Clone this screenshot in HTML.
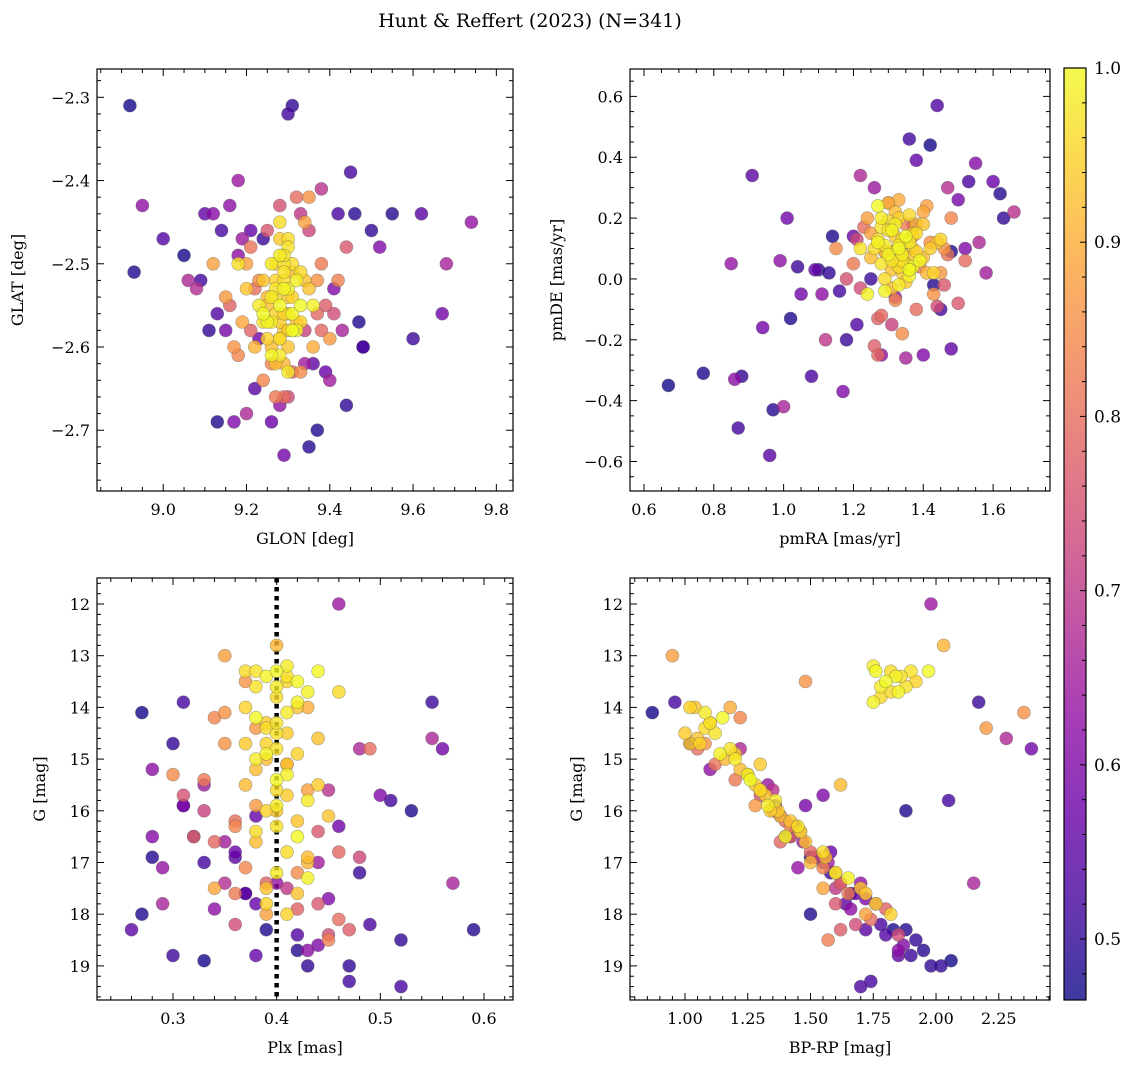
<!DOCTYPE html>
<html><head><meta charset="utf-8"><style>
html,body{margin:0;padding:0;background:#fff;}
svg{display:block;font-family:"DejaVu Serif","Liberation Serif",serif;}
</style></head><body>
<svg id="fig" width="1136" height="1068" viewBox="0 0 1136 1068" xmlns="http://www.w3.org/2000/svg">
<text x="530" y="27" text-anchor="middle" font-size="19">Hunt &amp; Reffert (2023) (N=341)</text>
</svg>
<script>
// shared membership probability and G magnitude
const prob = [1.0,0.99,0.98,0.97,1.0,0.96,0.95,0.99,0.94,0.98, 0.93,0.97,1.0,0.95,0.92,0.99,0.96,0.94,0.98,0.93, 0.97,0.95,1.0,0.92,0.96,0.94,0.98,0.93,0.91,0.95, 0.97,0.91,0.99,0.96,0.94,0.92,1.0,0.97,0.93,0.95, 0.98,0.96,0.94,0.92,0.99,
 0.88,0.86,0.84,0.82,0.80,0.87,0.78,0.85,0.76,0.83, 0.74,0.89,0.79,0.81,0.90,0.75,0.86,0.77,0.84,0.80, 0.72,0.88,0.76,0.82,0.73,0.85,0.78,0.74,0.87,0.79,
 0.47,0.48,0.62,0.50,0.52,0.63,0.55,0.49,0.66,0.58, 0.51,0.53,0.50,0.48,0.60,0.67,0.64,0.52,0.56,0.47, 0.54,0.68,0.59,0.61,0.57,0.49,0.65,0.50,0.69,0.53, 0.55,0.62,0.48,0.70,0.58,0.51,0.64,0.56,0.60,0.67, 0.50,0.63,0.57,0.66,0.52,
 0.97,0.95,1.0,0.93,0.96,0.98,0.94,0.99,0.92,0.96,0.97,0.93,0.95,0.98,0.94,
 0.84,0.88,0.78,0.86,0.80,
 0.52,0.56,0.60,0.49,0.54,0.65,0.58,0.51,0.62,0.48];
const gMag = [13.3,13.4,13.2,13.6,13.5,13.8,14.0,13.7,14.3,14.1, 14.6,14.5,14.2,14.9,15.0,15.3,15.6,14.7,15.8,16.1, 16.3,16.0,16.5,15.2,16.8,15.5,17.2,17.5,17.0,18.0, 13.3,12.8,13.9,14.4,15.1,15.5,13.3,14.8,16.2,17.8, 15.9,13.7,14.5,16.6,17.3,
 13.0,13.5,14.2,15.4,16.2,15.9,16.5,17.2,17.8,18.5, 18.2,17.5,16.8,15.1,14.0,15.7,14.1,18.3,17.1,14.8, 16.0,18.0,16.4,17.6,16.9,15.3,17.9,18.4,14.4,16.6,
 14.1,18.0,15.2,14.7,13.9,17.1,18.3,18.3,17.4,14.8, 13.9,19.4,18.5,16.0,15.7,14.8,12.0,19.3,18.8,18.9, 16.5,17.4,15.9,16.5,17.6,18.7,17.0,19.0,15.6,18.2, 16.9,17.9,18.3,17.5,16.3,18.8,15.5,17.8,18.6,14.6, 19.0,17.4,16.8,17.8,15.8,
 13.4,14.7,15.4,14.0,16.4,13.6,15.7,14.9,16.9,13.3,14.3,17.6,13.5,15.0,16.0,
 16.3,15.6,17.4,14.7,18.1,
 17.0,16.1,17.7,16.9,18.4,16.6,15.9,17.2,18.7,17.6];
const glon = [9.28,9.30,9.26,9.29,9.31,9.27,9.25,9.32,9.29,9.28, 9.24,9.30,9.33,9.27,9.26,9.29,9.31,9.28,9.23,9.30, 9.29,9.27,9.32,9.25,9.28,9.30,9.26,9.34,9.29,9.31, 9.18,9.22,9.36,9.28,9.30,9.27,9.24,9.29,9.20,9.33, 9.26,9.30,9.28,9.31,9.25,
 9.20,9.35,9.18,9.38,9.22,9.40,9.16,9.33,9.25,9.42, 9.30,9.19,9.37,9.21,9.36,9.28,9.17,9.39,9.24,9.32, 9.34,9.12,9.44,9.27,9.35,9.23,9.31,9.41,9.15,9.38,
 8.92,8.93,8.95,9.31,9.30,9.74,9.62,9.55,9.68,9.67, 9.60,9.48,9.50,9.13,9.17,9.20,9.18,9.45,9.10,9.05, 9.00,9.08,9.15,9.12,9.26,9.35,9.40,9.44,9.38,9.42, 9.22,9.16,9.47,9.33,9.29,9.24,9.19,9.36,9.52,9.06, 9.11,9.28,9.39,9.43,9.14,
 9.27,9.29,9.31,9.25,9.33,9.28,9.30,9.26,9.32,9.29,9.24,9.35,9.27,9.30,9.28,
 9.26,9.34,9.21,9.37,9.29,
 9.09,9.21,9.41,9.46,9.13,9.34,9.23,9.48,9.18,9.37];
const glat = [-2.55,-2.53,-2.57,-2.50,-2.56,-2.54,-2.59,-2.52,-2.58,-2.61, -2.52,-2.48,-2.55,-2.56,-2.60,-2.53,-2.50,-2.57,-2.55,-2.60, -2.49,-2.52,-2.58,-2.54,-2.59,-2.56,-2.50,-2.52,-2.62,-2.54, -2.50,-2.60,-2.55,-2.45,-2.58,-2.62,-2.56,-2.51,-2.53,-2.57, -2.54,-2.47,-2.59,-2.51,-2.57,
 -2.50,-2.42,-2.61,-2.50,-2.53,-2.59,-2.55,-2.63,-2.46,-2.52, -2.66,-2.57,-2.56,-2.48,-2.60,-2.43,-2.60,-2.55,-2.64,-2.42, -2.58,-2.50,-2.48,-2.66,-2.46,-2.52,-2.63,-2.56,-2.54,-2.58,
 -2.31,-2.51,-2.43,-2.31,-2.32,-2.45,-2.44,-2.44,-2.50,-2.56, -2.59,-2.60,-2.46,-2.69,-2.69,-2.68,-2.40,-2.39,-2.44,-2.49, -2.47,-2.53,-2.58,-2.44,-2.69,-2.72,-2.64,-2.67,-2.41,-2.44, -2.65,-2.43,-2.57,-2.44,-2.73,-2.47,-2.47,-2.62,-2.48,-2.52, -2.58,-2.67,-2.63,-2.58,-2.46,
 -2.53,-2.56,-2.58,-2.55,-2.51,-2.49,-2.54,-2.61,-2.57,-2.52,-2.57,-2.53,-2.50,-2.63,-2.47,
 -2.62,-2.45,-2.58,-2.52,-2.66,
 -2.52,-2.46,-2.53,-2.44,-2.56,-2.62,-2.59,-2.60,-2.49,-2.70];
const pmra = [1.33,1.30,1.36,1.28,1.35,1.32,1.38,1.31,1.34,1.29, 1.40,1.27,1.37,1.33,1.25,1.36,1.30,1.42,1.34,1.31, 1.28,1.35,1.39,1.32,1.26,1.37,1.33,1.44,1.30,1.35, 1.22,1.41,1.29,1.36,1.32,1.38,1.27,1.34,1.31,1.45, 1.33,1.29,1.36,1.31,1.24,
 1.25,1.42,1.48,1.20,1.38,1.45,1.30,1.15,1.50,1.35, 1.22,1.40,1.28,1.47,1.33,1.18,1.43,1.26,1.37,1.52, 1.31,1.24,1.46,1.39,1.21,1.34,1.29,1.44,1.36,1.27,
 0.67,0.77,0.86,0.88,0.87,0.85,0.96,0.97,1.00,1.01, 1.04,1.08,1.10,1.14,1.17,1.22,1.26,1.36,1.38,1.42, 1.44,1.47,1.50,1.55,1.60,1.62,1.58,1.63,1.66,1.53, 0.91,0.99,1.02,1.12,1.05,1.18,1.32,1.48,1.40,1.56, 1.13,1.28,1.20,1.35,1.45,
 1.31,1.34,1.36,1.29,1.38,1.32,1.35,1.27,1.40,1.33,1.30,1.37,1.43,1.28,1.34,
 1.32,1.41,1.27,1.46,1.23,
 1.16,1.09,1.52,1.43,1.21,1.37,0.94,1.25,1.11,1.48];
const pmde = [0.10,0.08,0.12,0.05,0.14,0.06,0.09,0.16,0.02,0.11, 0.18,0.13,0.04,0.20,0.07,0.01,0.19,0.10,0.08,0.03, 0.17,0.12,0.06,0.22,0.10,0.15,-0.02,0.12,0.25,0.05, 0.10,0.02,-0.04,0.21,0.14,0.18,0.24,0.06,0.09,0.13, 0.11,0.00,0.07,-0.03,-0.05,
 0.15,0.12,0.20,0.05,-0.10,0.02,0.25,0.10,-0.08,0.18, -0.03,0.22,-0.12,0.08,0.26,0.00,-0.05,-0.22,0.14,0.06, -0.15,0.20,-0.02,0.04,0.13,-0.18,0.09,-0.09,0.03,-0.25,
 -0.35,-0.31,-0.33,-0.32,-0.49,0.05,-0.58,-0.43,-0.42,0.20, 0.04,-0.32,0.03,0.14,-0.37,0.34,0.30,0.46,0.39,0.44, 0.57,0.30,0.26,0.38,0.32,0.28,0.02,0.20,0.22,0.32, 0.34,0.06,-0.13,-0.20,-0.05,-0.20,-0.06,-0.23,-0.25,0.12, 0.02,-0.25,0.14,-0.26,-0.10,
 0.06,0.13,0.03,0.09,0.15,0.18,-0.01,0.12,0.07,0.04,0.16,0.10,0.02,0.20,0.08,
 -0.07,0.24,-0.13,0.10,0.17,
 -0.04,0.03,0.10,-0.02,-0.15,0.18,-0.16,0.00,-0.05,0.09];
const plx = [0.40,0.39,0.41,0.38,0.42,0.40,0.37,0.43,0.39,0.41, 0.44,0.40,0.38,0.42,0.39,0.41,0.40,0.37,0.43,0.45, 0.40,0.39,0.42,0.38,0.41,0.44,0.40,0.39,0.43,0.41, 0.38,0.40,0.42,0.39,0.41,0.37,0.44,0.40,0.42,0.39, 0.40,0.46,0.41,0.38,0.43,
 0.35,0.37,0.34,0.33,0.36,0.38,0.32,0.42,0.44,0.45, 0.36,0.34,0.46,0.41,0.43,0.31,0.35,0.47,0.37,0.49, 0.33,0.39,0.44,0.36,0.48,0.30,0.42,0.45,0.38,0.34,
 0.27,0.27,0.28,0.30,0.31,0.29,0.26,0.59,0.57,0.56, 0.55,0.52,0.52,0.53,0.50,0.48,0.46,0.47,0.38,0.33, 0.32,0.35,0.31,0.28,0.37,0.42,0.44,0.43,0.45,0.49, 0.36,0.34,0.39,0.41,0.46,0.30,0.33,0.38,0.44,0.55, 0.47,0.40,0.36,0.29,0.51,
 0.41,0.39,0.40,0.42,0.38,0.40,0.41,0.39,0.43,0.37,0.40,0.42,0.41,0.38,0.40,
 0.36,0.43,0.39,0.35,0.46,
 0.33,0.38,0.45,0.28,0.42,0.35,0.31,0.48,0.43,0.37];
const bprp = [1.76,1.84,1.75,1.88,1.80,1.78,1.02,1.85,1.10,1.08, 1.05,1.12,1.15,1.20,1.16,1.25,1.30,1.02,1.36,1.38, 1.45,1.34,1.40,1.22,1.55,1.28,1.60,1.70,1.50,1.82, 1.90,2.03,1.75,1.08,1.30,1.62,1.97,1.18,1.42,1.76, 1.33,1.82,1.00,1.48,1.65,
 0.95,1.48,1.22,1.20,1.40,1.28,1.42,1.60,1.60,1.57, 1.68,1.55,1.50,1.12,1.18,1.30,2.35,1.62,1.55,1.05, 1.35,1.72,1.46,1.65,1.52,1.25,1.80,1.85,2.20,1.38,
 0.87,1.50,1.10,1.02,0.96,1.45,1.72,1.88,2.15,2.38, 2.17,1.70,1.92,1.88,1.55,1.22,1.98,1.74,1.85,2.06, 1.42,1.62,1.48,1.40,1.68,1.95,1.57,2.02,1.35,1.78, 1.52,1.66,1.83,1.60,1.44,1.90,1.33,1.64,1.87,2.28, 1.98,1.70,1.58,1.76,2.05,
 1.86,1.06,1.26,1.04,1.46,1.78,1.32,1.14,1.56,1.82,1.10,1.72,1.92,1.20,1.37,
 1.42,1.30,1.62,1.08,1.74,
 1.55,1.38,1.72,1.50,1.80,1.47,1.36,1.58,1.85,1.66];
const cbTicks = [0.5,0.6,0.7,0.8,0.9,1.0];
const plxRef = 0.40;

const NS='http://www.w3.org/2000/svg';
const svg=document.getElementById('fig');
function mk(tag,attrs,parent){const e=document.createElementNS(NS,tag);for(const k in attrs)e.setAttribute(k,attrs[k]);(parent||svg).appendChild(e);return e;}
const stops=[[0,'#0d0887'],[0.1,'#41049d'],[0.2,'#6a00a8'],[0.3,'#8f0da4'],[0.4,'#b12a90'],[0.5,'#cc4778'],[0.6,'#e16462'],[0.7,'#f2844b'],[0.8,'#fca636'],[0.9,'#fcce25'],[1,'#f0f921']];
function hex(h){return [1,3,5].map(i=>parseInt(h.substr(i,2),16));}
function plasma(t){t=Math.max(0,Math.min(1,t));for(let i=1;i<stops.length;i++){if(t<=stops[i][0]){const a=stops[i-1],b=stops[i];const f=(t-a[0])/(b[0]-a[0]);const ca=hex(a[1]),cb=hex(b[1]);return 'rgb('+ca.map((v,j)=>Math.round(v+(cb[j]-v)*f)).join(',')+')';}}return stops[10][1];}
const pMin=0.465,pMax=1.0;
const norm=p=>(p-pMin)/(pMax-pMin);
const order=prob.map((p,i)=>i).sort((a,b)=>prob[a]-prob[b]);

function panel(cfg){
  const {name,L,T,R,B,xmin,xmax,ymin,ymax,xs,ys,xMaj,xMin,yMaj,yMin,xDec,yDec,xlab,ylab,ylabX,inv}=cfg;
  const g=mk('g',{});
  
  
  const sx=v=>L+(v-xmin)/(xmax-xmin)*(R-L);
  const sy=v=>inv? T+(v-ymin)/(ymax-ymin)*(B-T) : B-(v-ymin)/(ymax-ymin)*(B-T);
  const cid='clip-'+name;
  const cp=mk('clipPath',{id:cid},g);mk('rect',{x:L,y:T,width:R-L,height:B-T},cp);
  const pts=mk('g',{'clip-path':'url(#'+cid+')'},g);
  
  
  if(cfg.extra)cfg.extra(pts,sx,sy);
  order.forEach(i=>{
    const c=mk('circle',{cx:sx(xs[i]).toFixed(1),cy:sy(ys[i]).toFixed(1),r:6.5,fill:plasma(norm(prob[i])),'fill-opacity':0.8,stroke:'rgba(90,90,90,0.5)','stroke-width':0.6},pts);
    
    
  });
  mk('rect',{x:L,y:T,width:R-L,height:B-T,fill:'none',stroke:'#000','stroke-width':1.2},g);
  const tk=(x1,y1,x2,y2)=>mk('line',{x1,y1,x2,y2,stroke:'#000','stroke-width':1},g);
  const eps=1e-9;
  for(let v=Math.ceil(xmin/xMin-eps)*xMin;v<=xmax+eps;v+=xMin){const x=sx(v);const major=Math.abs(v/xMaj-Math.round(v/xMaj))<1e-6;const l=major?7:4;tk(x,B,x,B-l);tk(x,T,x,T+l);
    if(major){const t=mk('text',{x:x,y:B+24,'text-anchor':'middle','font-size':16},g);t.textContent=v.toFixed(xDec);}}
  for(let v=Math.ceil(ymin/yMin-eps)*yMin;v<=ymax+eps;v+=yMin){const y=sy(v);const major=Math.abs(v/yMaj-Math.round(v/yMaj))<1e-6;const l=major?7:4;tk(L,y,L+l,y);tk(R,y,R-l,y);
    if(major){const t=mk('text',{x:L-7,y:y+6,'text-anchor':'end','font-size':16},g);t.textContent=(Math.abs(v)<1e-9?0:v).toFixed(yDec).replace('-','\u2212');}}
  const xl=mk('text',{x:(L+R)/2,y:B+53,'text-anchor':'middle','font-size':16},g);xl.textContent=xlab;
  
  
  const yl=mk('text',{x:ylabX,y:(T+B)/2,'text-anchor':'middle','font-size':16,transform:'rotate(-90 '+ylabX+' '+(T+B)/2+')'},g);yl.textContent=ylab;
  
  
}

panel({name:'panel-position',L:97,T:69,R:513,B:491,xmin:8.841,xmax:9.84,ymin:-2.773,ymax:-2.266,xs:glon,ys:glat,xMaj:0.2,xMin:0.05,yMaj:0.1,yMin:0.02,xDec:1,yDec:1,xlab:'GLON [deg]',ylab:'GLAT [deg]',ylabX:23});
panel({name:'panel-proper-motion',L:630,T:69,R:1050,B:491,xmin:0.56,xmax:1.763,ymin:-0.697,ymax:0.69,xs:pmra,ys:pmde,xMaj:0.2,xMin:0.05,yMaj:0.2,yMin:0.05,xDec:1,yDec:1,xlab:'pmRA [mas/yr]',ylab:'pmDE [mas/yr]',ylabX:562});
panel({name:'panel-parallax',L:97,T:578,R:513,B:1000,xmin:0.2267,xmax:0.628,ymin:11.497,ymax:19.66,xs:plx,ys:gMag,xMaj:0.1,xMin:0.02,yMaj:1,yMin:0.2,xDec:1,yDec:0,xlab:'Plx [mas]',ylab:'G [mag]',ylabX:45,inv:true,
  extra:(g,sx,sy)=>{const l=mk('line',{x1:sx(plxRef),y1:578,x2:sx(plxRef),y2:1000,stroke:'#000','stroke-width':4.5,'stroke-dasharray':'4.5,4.5'},g);}});
panel({name:'panel-cmd',L:630,T:578,R:1050,B:1000,xmin:0.781,xmax:2.454,ymin:11.497,ymax:19.66,xs:bprp,ys:gMag,xMaj:0.25,xMin:0.05,yMaj:1,yMin:0.2,xDec:2,yDec:0,xlab:'BP-RP [mag]',ylab:'G [mag]',ylabX:582,inv:true});

// colorbar
const cb=mk('g',{});


const defs=mk('defs',{},cb);
const lg=mk('linearGradient',{id:'cbg',x1:0,y1:1,x2:0,y2:0},defs);
stops.forEach(s=>mk('stop',{offset:s[0],'stop-color':s[1]},lg));
const cL=1064,cR=1086,cT=68,cB=1000;
mk('rect',{x:cL,y:cT,width:cR-cL,height:cB-cT,fill:'url(#cbg)','fill-opacity':0.8},cb);
mk('rect',{x:cL,y:cT,width:cR-cL,height:cB-cT,fill:'none',stroke:'#000','stroke-width':1.2},cb);
const cy=v=>cB-(v-pMin)/(pMax-pMin)*(cB-cT);
for(let v=0.48;v<=1.0001;v+=0.02){const y=cy(v);const major=cbTicks.some(t=>Math.abs(t-v)<1e-6);mk('line',{x1:cR,y1:y,x2:cR-(major?6:4),y2:y,stroke:'#000','stroke-width':1},cb);}
cbTicks.forEach(v=>{const t=mk('text',{x:cR+8,y:cy(v)+6,'font-size':17},cb);t.textContent=v.toFixed(1);});
</script>
</body></html>
